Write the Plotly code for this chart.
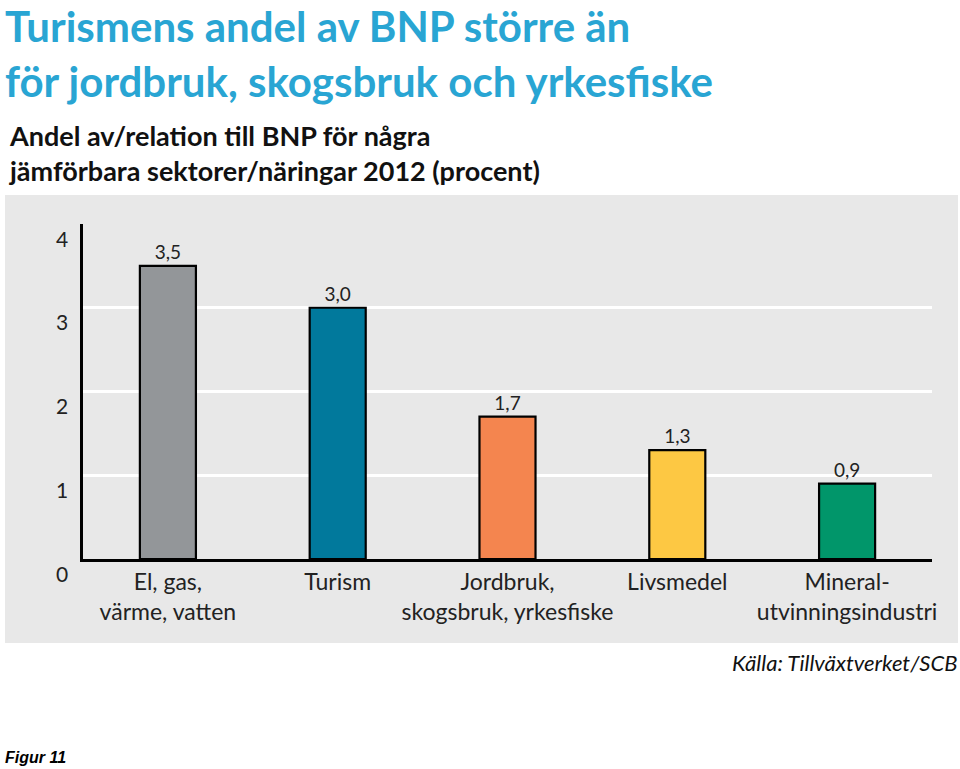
import plotly.graph_objects as go

categories = ["El, gas,<br>värme, vatten", "Turism", "Jordbruk,<br>skogsbruk, yrkesfiske",
              "Livsmedel", "Mineral-<br>utvinningsindustri"]
values = [3.5, 3.0, 1.7, 1.3, 0.9]
bar_colors = ["#939699", "#01799c", "#f4854f", "#fdc843", "#01966a"]
y_ticks = [0, 1, 2, 3, 4]

title_text = "Turismens andel av BNP större än<br>för jordbruk, skogsbruk och yrkesfiske"
subtitle_text = "Andel av/relation till BNP för några<br>jämförbara sektorer/näringar 2012 (procent)"
source_text = "<i>Källa: Tillväxtverket/SCB</i>"
figure_label = "<b><i>Figur 11</i></b>"

W, H = 960, 769
L, R, T, B = 83, 28, 224, 210
pw, ph = W - L - R, H - T - B

def px_x(x):
    return (x - L) / pw

def px_y(y):
    return (H - B - y) / ph

fig = go.Figure()
fig.add_trace(go.Bar(
    x=categories, y=values,
    marker=dict(color=bar_colors, line=dict(color="black", width=2.2)),
    width=0.33,
    texttemplate="%{y:.1f}", textposition="outside",
    textfont=dict(family="Lato", size=19, color="#222"),
    cliponaxis=False,
))

# background panel
fig.add_shape(type="rect", xref="paper", yref="paper",
              x0=px_x(5), x1=px_x(958), y0=px_y(643), y1=px_y(195),
              fillcolor="#e8e8e8", line=dict(width=0), layer="below")

annotations = []
for t in y_ticks:
    annotations.append(dict(x=px_x(70), y=t, xref="paper", yref="y", text=str(t),
                            showarrow=False, xanchor="right", yanchor="middle", yshift=-14,
                            font=dict(family="Lato", size=21, color="#222")))
annotations += [
    dict(x=px_x(4), y=px_y(0), xref="paper", yref="paper", text="<b>" + title_text + "</b>",
         showarrow=False, xanchor="left", yanchor="top", align="left", borderpad=0,
         font=dict(family="Lato", size=42, color="#29a5d3")),
    dict(x=px_x(6), y=px_y(117), xref="paper", yref="paper", text="<b>" + subtitle_text + "</b>",
         showarrow=False, xanchor="left", yanchor="top", align="left",
         font=dict(family="Lato", size=27, color="#111")),
    dict(x=px_x(960), y=px_y(662), xref="paper", yref="paper", text=source_text, showarrow=False,
         xanchor="right", yanchor="middle", font=dict(family="Lato", size=22, color="#111")),
    dict(x=px_x(3), y=px_y(757), xref="paper", yref="paper", text=figure_label, showarrow=False,
         xanchor="left", yanchor="middle", font=dict(family="Liberation Sans", size=16, color="#000")),
]

fig.update_layout(
    width=W, height=H,
    margin=dict(l=L, r=R, t=T, b=B),
    paper_bgcolor="white", plot_bgcolor="rgba(0,0,0,0)",
    separators=",.",
    showlegend=False,
    annotations=annotations,
    xaxis=dict(range=[-0.5, 4.5], showline=True, linecolor="black", linewidth=2.5,
               ticks="", showgrid=False, ticklabelstandoff=1,
               tickfont=dict(family="Lato", size=23, color="#222")),
    yaxis=dict(range=[0, 4], tickvals=y_ticks, showticklabels=False, showline=True,
               linecolor="black", linewidth=2.5, gridcolor="white", gridwidth=2.5,
               zeroline=False, ticks=""),
)

fig.write_html("out.html", config={"displayModeBar": False},
               post_script="document.body.style.margin='0';")
